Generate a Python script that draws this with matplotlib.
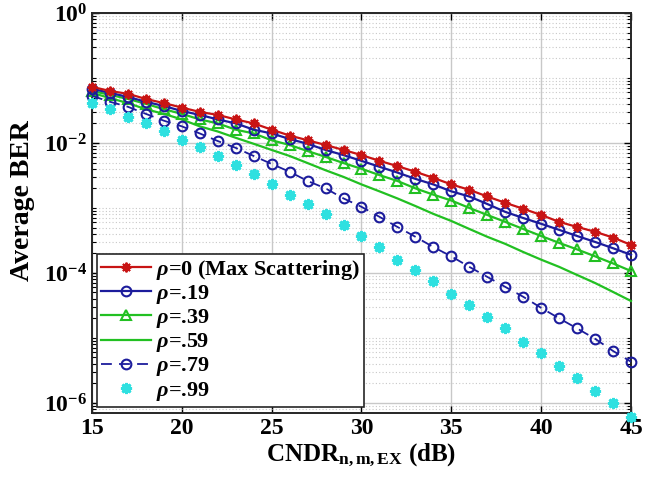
import numpy as np
import matplotlib
matplotlib.use("Agg")
import matplotlib.pyplot as plt
from matplotlib.ticker import FixedLocator, LogLocator, NullFormatter, FuncFormatter

# ===== data =====
cndr_db = list(range(15, 46))

ber_rho_0 = [7.3e-2, 6.3e-2, 5.7e-2, 4.75e-2, 4.1e-2, 3.5e-2, 3.0e-2, 2.7e-2, 2.3e-2, 2.0e-2,
             1.6e-2, 1.3e-2, 1.1e-2, 9.3e-3, 7.8e-3, 6.5e-3, 5.3e-3, 4.4e-3, 3.6e-3, 2.9e-3,
             2.3e-3, 1.9e-3, 1.5e-3, 1.2e-3, 9.7e-4, 7.8e-4, 6.1e-4, 5.1e-4, 4.3e-4, 3.5e-4,
             2.7e-4]
ber_rho_19 = [6.8e-2, 5.9e-2, 5.1e-2, 4.3e-2, 3.7e-2, 3.1e-2, 2.7e-2, 2.3e-2, 2.0e-2, 1.6e-2,
              1.4e-2, 1.15e-2, 9.7e-3, 7.8e-3, 6.5e-3, 5.3e-3, 4.3e-3, 3.5e-3, 2.8e-3, 2.3e-3,
              1.8e-3, 1.5e-3, 1.15e-3, 8.7e-4, 7.0e-4, 5.7e-4, 4.6e-4, 3.7e-4, 3.0e-4, 2.4e-4,
              1.9e-4]
ber_rho_39 = [6.3e-2, 5.5e-2, 4.75e-2, 4.0e-2, 3.3e-2, 2.8e-2, 2.3e-2, 2.0e-2, 1.6e-2, 1.4e-2,
              1.1e-2, 9.3e-3, 7.5e-3, 6.1e-3, 4.9e-3, 4.0e-3, 3.2e-3, 2.6e-3, 2.0e-3, 1.6e-3,
              1.3e-3, 1.0e-3, 7.8e-4, 6.1e-4, 4.75e-4, 3.7e-4, 2.9e-4, 2.3e-4, 1.8e-4, 1.4e-4,
              1.07e-4]
ber_rho_59 = [5.9e-2, 4.9e-2, 4.1e-2, 3.3e-2, 2.8e-2, 2.3e-2, 1.8e-2, 1.5e-2, 1.2e-2, 9.7e-3,
              7.8e-3, 6.3e-3, 4.9e-3, 3.8e-3, 3.0e-3, 2.3e-3, 1.8e-3, 1.4e-3, 1.07e-3, 8.1e-4,
              6.3e-4, 4.75e-4, 3.6e-4, 2.8e-4, 2.1e-4, 1.6e-4, 1.24e-4, 9.3e-5, 7.0e-5, 5.1e-5,
              3.7e-5]
ber_rho_79 = [5.3e-2, 4.3e-2, 3.6e-2, 2.8e-2, 2.2e-2, 1.8e-2, 1.4e-2, 1.07e-2, 8.4e-3, 6.3e-3,
              4.75e-3, 3.6e-3, 2.6e-3, 2.0e-3, 1.4e-3, 1.04e-3, 7.3e-4, 5.1e-4, 3.6e-4, 2.5e-4,
              1.8e-4, 1.24e-4, 8.7e-5, 6.1e-5, 4.3e-5, 2.9e-5, 2.0e-5, 1.4e-5, 9.7e-6, 6.3e-6,
              4.3e-6]
ber_rho_99 = [4.1e-2, 3.3e-2, 2.5e-2, 2.0e-2, 1.5e-2, 1.1e-2, 8.7e-3, 6.3e-3, 4.6e-3, 3.3e-3,
              2.3e-3, 1.6e-3, 1.15e-3, 8.1e-4, 5.5e-4, 3.7e-4, 2.5e-4, 1.6e-4, 1.1e-4, 7.5e-5,
              4.75e-5, 3.2e-5, 2.1e-5, 1.4e-5, 8.7e-6, 5.9e-6, 3.7e-6, 2.4e-6, 1.5e-6, 1.0e-6,
              6.1e-7]

labels = [r'$\rho$=0 (Max Scattering)', r'$\rho$=.19', r'$\rho$=.39',
          r'$\rho$=.59', r'$\rho$=.79', r'$\rho$=.99']

x_ticks = [15, 20, 25, 30, 35, 40, 45]
y_major = [1e0, 1e-2, 1e-4, 1e-6]

# ===== style =====
plt.rcParams['font.family'] = 'Liberation Serif'
plt.rcParams['font.weight'] = 'bold'
plt.rcParams['mathtext.fontset'] = 'custom'
plt.rcParams['mathtext.rm'] = 'Liberation Serif:bold'
plt.rcParams['mathtext.bf'] = 'Liberation Serif:bold'
plt.rcParams['mathtext.it'] = 'Liberation Serif:italic:bold'

red = '#c81414'
navy = '#1c1c9c'
green = '#22c022'
cyan = '#2ee0e0'
asterisk = (8, 2, 0)

fig = plt.figure(figsize=(6.45, 4.98), dpi=100, facecolor='white')
ax = fig.add_axes([0.1426, 0.1707, 0.8357, 0.8033])

ax.plot(cndr_db, ber_rho_0, color=red, lw=1.6, marker=asterisk, ms=7, mew=1.4,
        label=labels[0], clip_on=False, zorder=6)
ax.plot(cndr_db, ber_rho_19, color=navy, lw=1.6, marker='o', ms=7, mfc='none', mew=1.5,
        label=labels[1], clip_on=False, zorder=5)
ax.plot(cndr_db, ber_rho_39, color=green, lw=1.6, marker='^', ms=7.5, mfc='none', mew=1.5,
        label=labels[2], clip_on=False, zorder=4)
ax.plot(cndr_db, ber_rho_59, color=green, lw=1.6, label=labels[3], clip_on=False, zorder=4)
ax.plot(cndr_db, ber_rho_79, color=navy, lw=1.3, ls=(0, (6, 4)), marker='o', ms=7,
        mfc='none', mew=1.5, label=labels[4], clip_on=False, zorder=5)
ax.plot(cndr_db, ber_rho_99, color=cyan, lw=0, marker=asterisk, ms=8, mew=2.0,
        label=labels[5], clip_on=False, zorder=5)

ax.set_yscale('log')
ax.set_xlim(15, 45)
ax.set_ylim(7.0e-7, 1e0)

ax.xaxis.set_major_locator(FixedLocator(x_ticks))
ax.yaxis.set_major_locator(FixedLocator(y_major))
ax.yaxis.set_minor_locator(LogLocator(base=10, subs=np.arange(1, 10), numticks=20))
ax.yaxis.set_minor_formatter(NullFormatter())
ax.yaxis.set_major_formatter(FuncFormatter(
    lambda v, p: r'$\mathbf{10^{%d}}$' % int(round(np.log10(v)))))

ax.grid(True, which='major', color='#c8c8c8', lw=1.0, ls='-')
ax.grid(True, which='minor', axis='y', color='#c8c8c8', lw=0.8, ls=(0, (1, 2)))
ax.set_axisbelow(True)

ax.tick_params(which='both', direction='in', top=True, right=True, labelsize=17)
ax.tick_params(which='major', length=5, width=1)
ax.tick_params(which='minor', length=3, width=0.8)
for s in ax.spines.values():
    s.set_linewidth(1.4)
    s.set_color('#262626')

ax.set_xlabel(r'CNDR$_{\mathbf{n,m,EX}}$ (dB)', fontsize=18, fontweight='bold', labelpad=2)
ax.set_ylabel('Average BER', fontsize=20, fontweight='bold', labelpad=2)
ax.yaxis.set_label_coords(-0.105, 0.53)

leg = ax.legend(loc='lower left', bbox_to_anchor=(0.009, 0.015), borderaxespad=0,
                fontsize=16, handlelength=2.25, handletextpad=0.2, labelspacing=0.05,
                borderpad=0.2, fancybox=False, framealpha=1, edgecolor='#262626')
leg.get_frame().set_linewidth(1.2)
leg.set_zorder(10)

fig.savefig('out.png', dpi=100, facecolor='white')
